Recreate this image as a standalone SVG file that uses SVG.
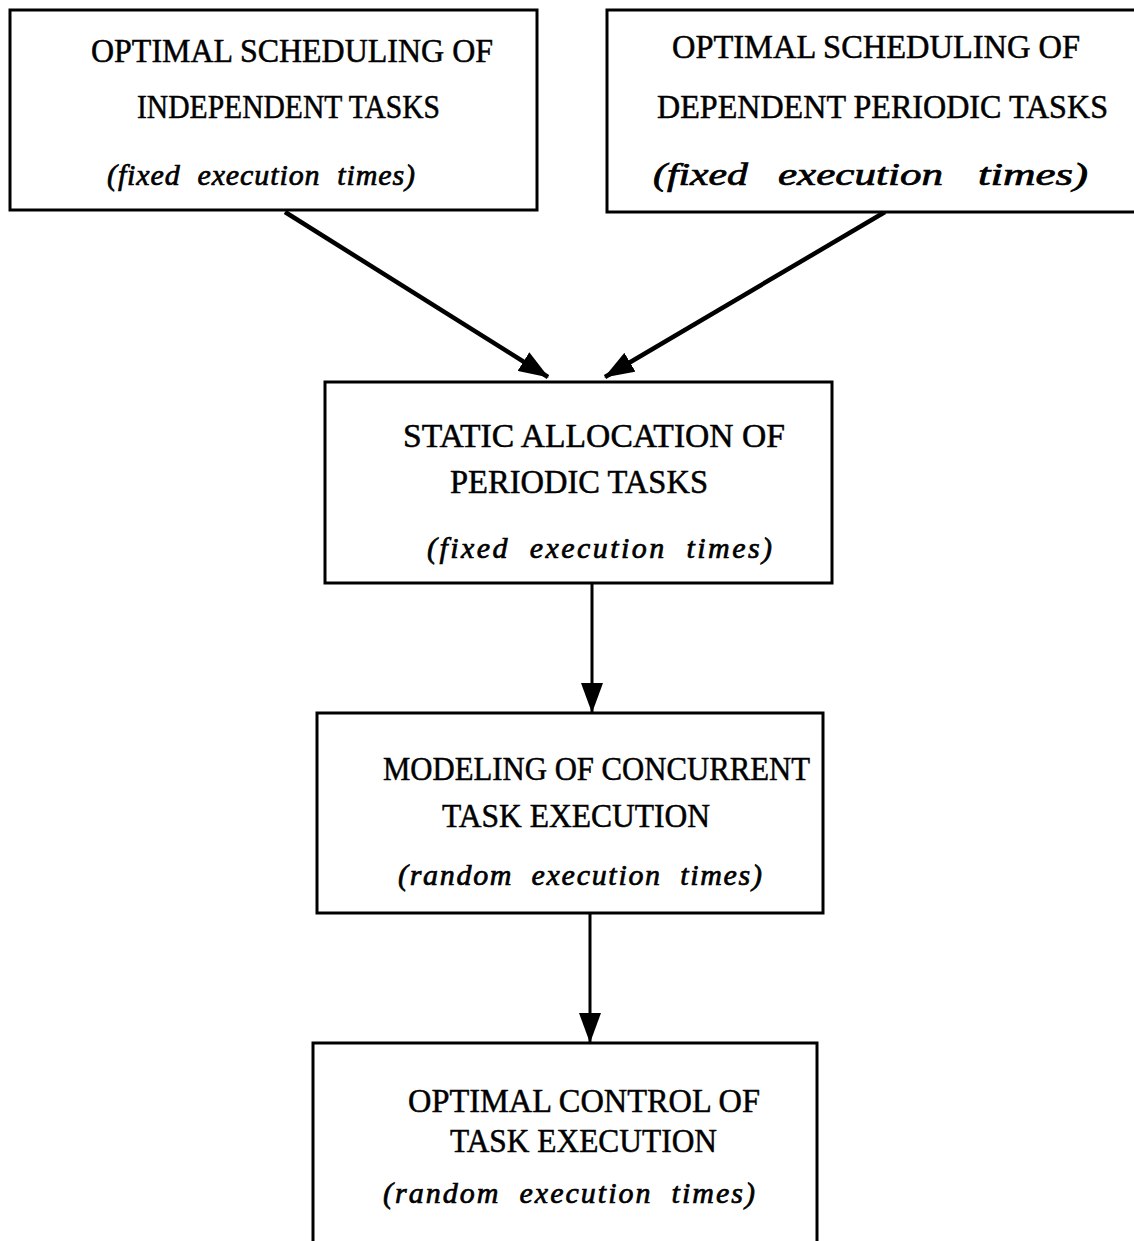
<svg xmlns="http://www.w3.org/2000/svg" width="1134" height="1241" viewBox="0 0 1134 1241">
  <style>
    .box { fill: #ffffff; stroke: #000000; stroke-width: 3; }
    .t { font-family: "Liberation Serif", "Times New Roman", serif; font-size: 33px; fill: #000000; stroke: #000000; stroke-width: 0.5; }
    .i { font-family: "Liberation Serif", "Times New Roman", serif; font-size: 30px; font-style: italic; fill: #000000; stroke: #000000; stroke-width: 0.7; white-space: pre; }
    .i2 { font-size: 31px; }
    .conn { stroke: #000000; fill: none; }
    .diag { stroke-width: 4.5; }
    .vert { stroke-width: 3; }
  </style>
  <defs>
    <marker id="ah" markerUnits="userSpaceOnUse" markerWidth="30" markerHeight="22" refX="29" refY="11" orient="auto">
      <path d="M0,0 L30,11 L0,22 Z" fill="#000000"/>
    </marker>
  </defs>
  <rect width="1134" height="1241" fill="#ffffff"/>

  <g id="connectors">
    <line class="conn diag" x1="285" y1="212" x2="548" y2="377" marker-end="url(#ah)"/>
    <line class="conn diag" x1="885" y1="212" x2="605" y2="377" marker-end="url(#ah)"/>
    <line class="conn vert" x1="592" y1="584" x2="592" y2="712" marker-end="url(#ah)"/>
    <line class="conn vert" x1="590" y1="914" x2="590" y2="1042" marker-end="url(#ah)"/>
  </g>

  <g id="node-independent">
    <rect class="box" x="10" y="10" width="527" height="200"/>
    <text class="t" x="91" y="62" textLength="402" lengthAdjust="spacingAndGlyphs">OPTIMAL SCHEDULING OF</text>
    <text class="t" x="137" y="118" textLength="303" lengthAdjust="spacingAndGlyphs">INDEPENDENT TASKS</text>
    <text class="i" x="107" y="185" textLength="308" lengthAdjust="spacing">(fixed  execution  times)</text>
  </g>

  <g id="node-dependent">
    <rect class="box" x="607" y="10" width="560" height="202"/>
    <text class="t" x="672" y="58" textLength="408" lengthAdjust="spacingAndGlyphs">OPTIMAL SCHEDULING OF</text>
    <text class="t" x="657" y="118" textLength="451" lengthAdjust="spacingAndGlyphs">DEPENDENT PERIODIC TASKS</text>
    <text class="i i2" y="185"><tspan x="653" textLength="95" lengthAdjust="spacingAndGlyphs">(fixed</tspan><tspan x="778" textLength="165" lengthAdjust="spacingAndGlyphs">execution</tspan><tspan x="978" textLength="110" lengthAdjust="spacingAndGlyphs">times)</tspan></text>
  </g>

  <g id="node-static">
    <rect class="box" x="325" y="382" width="507" height="201"/>
    <text class="t" x="403" y="447" textLength="382" lengthAdjust="spacingAndGlyphs">STATIC ALLOCATION OF</text>
    <text class="t" x="450" y="493" textLength="258" lengthAdjust="spacingAndGlyphs">PERIODIC TASKS</text>
    <text class="i" x="427" y="558" textLength="345" lengthAdjust="spacing">(fixed  execution  times)</text>
  </g>

  <g id="node-modeling">
    <rect class="box" x="317" y="713" width="506" height="200"/>
    <text class="t" x="383" y="780" textLength="427" lengthAdjust="spacingAndGlyphs">MODELING OF CONCURRENT</text>
    <text class="t" x="442" y="827" textLength="268" lengthAdjust="spacingAndGlyphs">TASK EXECUTION</text>
    <text class="i" x="398" y="885" textLength="364" lengthAdjust="spacing">(random  execution  times)</text>
  </g>

  <g id="node-control">
    <rect class="box" x="313" y="1043" width="504" height="230"/>
    <text class="t" x="408" y="1112" textLength="352" lengthAdjust="spacingAndGlyphs">OPTIMAL CONTROL OF</text>
    <text class="t" x="450" y="1152" textLength="267" lengthAdjust="spacingAndGlyphs">TASK EXECUTION</text>
    <text class="i" x="383" y="1203" textLength="372" lengthAdjust="spacing">(random  execution  times)</text>
  </g>
</svg>
